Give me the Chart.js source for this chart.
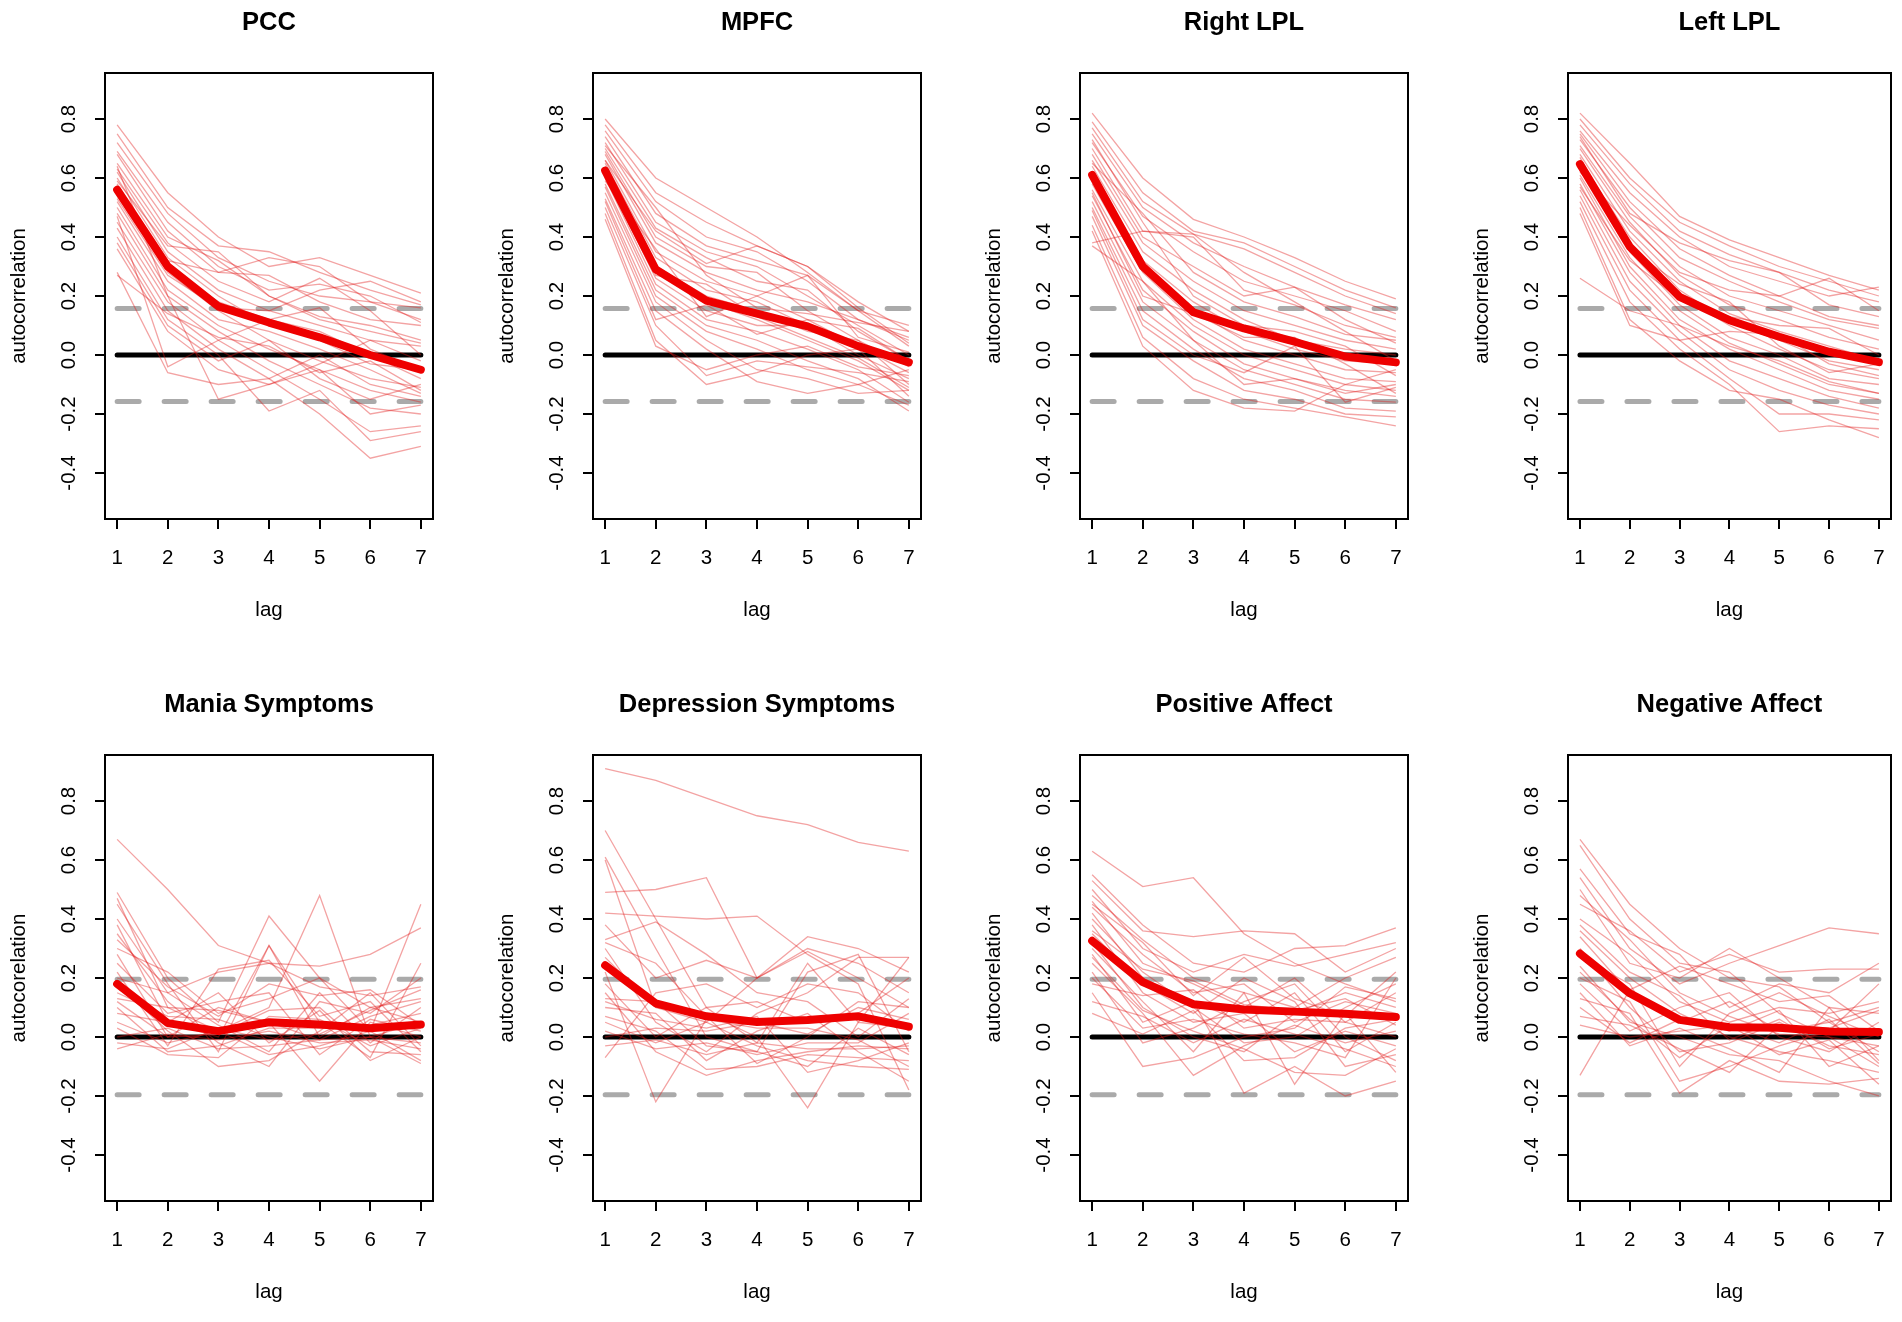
<!DOCTYPE html>
<html><head><meta charset="utf-8">
<script src="https://cdn.jsdelivr.net/npm/chart.js@4.4.1/dist/chart.umd.min.js"></script>
<style>
html,body{margin:0;padding:0;background:#fff;overflow:hidden;width:1902px;height:1322px;position:relative;}
canvas{position:absolute;}
</style></head><body>
<script>
// ---------- data ----------
const lags = [1, 2, 3, 4, 5, 6, 7];
const xTicks = [1, 2, 3, 4, 5, 6, 7];
const yTicks = [-0.4, -0.2, 0.0, 0.2, 0.4, 0.6, 0.8];
const panelTitles = ['PCC', 'MPFC', 'Right LPL', 'Left LPL', 'Mania Symptoms', 'Depression Symptoms', 'Positive Affect', 'Negative Affect'];
const yAxisTitles = ['autocorrelation', 'autocorrelation', 'autocorrelation', 'autocorrelation', 'autocorelation', 'autocorelation', 'autocorelation', 'autocorelation'];
const xAxisTitle = 'lag';
const ciBounds = [0.158, 0.158, 0.158, 0.158, 0.196, 0.196, 0.196, 0.196];

const pccMean = [0.56, 0.30, 0.165, 0.11, 0.06, 0.00, -0.05];
const pccLines = [
  [0.78, 0.55, 0.40, 0.30, 0.33, 0.27, 0.21],
  [0.75, 0.50, 0.37, 0.35, 0.28, 0.22, 0.17],
  [0.72, 0.48, 0.33, 0.25, 0.20, 0.18, 0.16],
  [0.69, 0.45, 0.30, 0.22, 0.24, 0.20, 0.11],
  [0.68, 0.42, 0.28, 0.27, 0.18, 0.12, 0.10],
  [0.65, 0.40, 0.32, 0.20, 0.12, 0.08, 0.04],
  [0.63, 0.38, 0.25, 0.18, 0.26, 0.15, 0.00],
  [0.62, 0.35, 0.22, 0.15, 0.10, 0.05, -0.02],
  [0.60, 0.33, 0.20, 0.10, 0.05, -0.03, -0.05],
  [0.58, 0.30, 0.18, 0.12, 0.08, 0.00, -0.08],
  [0.55, 0.28, 0.15, 0.05, -0.02, -0.08, -0.11],
  [0.52, 0.25, 0.12, 0.08, 0.02, -0.05, -0.13],
  [0.50, 0.22, 0.10, 0.02, -0.05, -0.12, -0.16],
  [0.48, 0.20, 0.08, -0.02, -0.10, -0.18, -0.20],
  [0.45, 0.18, 0.05, -0.05, -0.15, -0.26, -0.24],
  [0.43, 0.15, 0.02, -0.08, -0.20, -0.35, -0.31],
  [0.40, 0.12, 0.00, -0.19, -0.12, -0.29, -0.26],
  [0.38, 0.10, -0.02, 0.05, -0.08, -0.15, -0.10],
  [0.36, 0.08, -0.05, -0.10, -0.03, 0.05, 0.03],
  [0.28, -0.06, -0.10, -0.08, 0.00, -0.10, -0.14],
  [0.27, 0.14, 0.06, 0.03, -0.06, -0.02, -0.12],
  [0.57, 0.32, 0.28, 0.33, 0.30, 0.18, 0.12],
  [0.64, 0.20, -0.15, -0.10, -0.05, -0.20, -0.17],
  [0.53, 0.27, 0.16, 0.15, 0.22, 0.25, 0.18],
  [0.47, -0.04, 0.05, 0.12, 0.16, 0.02, -0.05],
  [0.59, 0.37, 0.35, 0.20, 0.13, 0.10, 0.05]
];

const mpfcMean = [0.625, 0.29, 0.184, 0.14, 0.097, 0.03, -0.025];
const mpfcLines = [
  [0.80, 0.60, 0.50, 0.40, 0.28, 0.15, 0.10],
  [0.78, 0.55, 0.45, 0.37, 0.30, 0.18, 0.08],
  [0.76, 0.52, 0.40, 0.35, 0.25, 0.12, 0.06],
  [0.74, 0.48, 0.37, 0.32, 0.27, 0.15, 0.03],
  [0.72, 0.45, 0.35, 0.30, 0.20, 0.10, 0.00],
  [0.70, 0.43, 0.33, 0.25, 0.22, 0.08, -0.02],
  [0.69, 0.40, 0.30, 0.28, 0.15, 0.05, -0.04],
  [0.68, 0.38, 0.28, 0.22, 0.18, 0.12, 0.05],
  [0.66, 0.35, 0.25, 0.20, 0.12, 0.03, -0.06],
  [0.65, 0.33, 0.22, 0.18, 0.10, 0.00, -0.08],
  [0.64, 0.30, 0.20, 0.15, 0.08, 0.05, -0.10],
  [0.62, 0.28, 0.18, 0.12, 0.05, -0.02, -0.12],
  [0.61, 0.26, 0.15, 0.10, 0.10, 0.02, -0.14],
  [0.60, 0.24, 0.12, 0.08, 0.02, -0.05, -0.16],
  [0.58, 0.22, 0.10, 0.05, -0.02, -0.08, -0.19],
  [0.57, 0.20, 0.08, 0.02, -0.05, -0.10, -0.17],
  [0.55, 0.18, 0.05, -0.05, -0.08, -0.13, -0.12],
  [0.53, 0.15, 0.02, -0.09, -0.13, -0.10, -0.05],
  [0.50, 0.10, -0.07, -0.02, -0.04, -0.06, -0.09],
  [0.48, 0.05, -0.10, -0.06, 0.00, 0.02, -0.03],
  [0.46, 0.03, -0.05, 0.00, 0.03, -0.04, -0.07],
  [0.66, 0.42, 0.31, 0.37, 0.30, 0.16, 0.04],
  [0.59, 0.36, 0.13, 0.20, 0.27, 0.06, 0.01],
  [0.71, 0.50, 0.27, 0.16, 0.14, 0.11, 0.08],
  [0.63, 0.27, 0.24, 0.13, 0.06, -0.01, -0.11],
  [0.52, 0.12, 0.17, 0.07, 0.12, 0.09, -0.02]
];

const rlplMean = [0.61, 0.30, 0.145, 0.09, 0.045, -0.005, -0.025];
const rlplLines = [
  [0.82, 0.60, 0.46, 0.40, 0.33, 0.25, 0.19],
  [0.79, 0.55, 0.42, 0.38, 0.30, 0.22, 0.16],
  [0.77, 0.52, 0.41, 0.36, 0.28, 0.20, 0.14],
  [0.75, 0.50, 0.38, 0.30, 0.23, 0.17, 0.12],
  [0.72, 0.47, 0.35, 0.25, 0.20, 0.15, 0.08],
  [0.70, 0.42, 0.40, 0.22, 0.17, 0.10, 0.06],
  [0.68, 0.40, 0.30, 0.20, 0.23, 0.12, 0.04],
  [0.66, 0.38, 0.25, 0.15, 0.10, 0.05, 0.02],
  [0.64, 0.35, 0.22, 0.12, 0.05, 0.02, 0.00],
  [0.62, 0.32, 0.18, 0.08, 0.02, -0.02, -0.03],
  [0.60, 0.30, 0.15, 0.05, 0.00, -0.05, -0.06],
  [0.58, 0.28, 0.12, 0.02, -0.03, -0.08, -0.09],
  [0.56, 0.25, 0.10, 0.00, -0.05, -0.10, -0.12],
  [0.54, 0.22, 0.08, -0.03, -0.08, -0.12, -0.14],
  [0.52, 0.18, 0.05, -0.05, -0.10, -0.15, -0.16],
  [0.50, 0.15, 0.02, -0.08, -0.12, -0.18, -0.19],
  [0.47, 0.10, -0.02, -0.12, -0.15, -0.20, -0.21],
  [0.44, 0.06, -0.08, -0.15, -0.18, -0.21, -0.24],
  [0.42, 0.03, -0.12, -0.18, -0.19, -0.10, -0.05],
  [0.38, 0.42, 0.41, 0.28, 0.18, 0.08, -0.02],
  [0.37, 0.25, 0.05, -0.10, -0.08, -0.13, -0.10],
  [0.65, 0.48, 0.28, 0.18, 0.13, 0.07, 0.05],
  [0.55, 0.20, 0.14, 0.06, 0.06, -0.03, -0.13],
  [0.73, 0.45, 0.20, 0.10, 0.08, 0.03, -0.07],
  [0.49, 0.12, 0.00, -0.06, 0.03, -0.16, -0.11]
];

const llplMean = [0.647, 0.367, 0.197, 0.118, 0.062, 0.011, -0.024];
const llplLines = [
  [0.82, 0.65, 0.47, 0.39, 0.33, 0.27, 0.22],
  [0.80, 0.60, 0.45, 0.37, 0.30, 0.25, 0.20],
  [0.78, 0.58, 0.42, 0.34, 0.28, 0.22, 0.18],
  [0.76, 0.55, 0.40, 0.30, 0.25, 0.20, 0.23],
  [0.75, 0.52, 0.36, 0.27, 0.20, 0.26, 0.15],
  [0.73, 0.50, 0.33, 0.25, 0.18, 0.12, 0.09],
  [0.71, 0.47, 0.30, 0.20, 0.15, 0.10, 0.05],
  [0.70, 0.45, 0.27, 0.17, 0.12, 0.06, 0.02],
  [0.68, 0.42, 0.25, 0.14, 0.08, 0.03, -0.02],
  [0.66, 0.40, 0.22, 0.11, 0.05, -0.02, -0.05],
  [0.65, 0.38, 0.20, 0.10, 0.02, -0.05, -0.08],
  [0.63, 0.35, 0.17, 0.06, 0.00, -0.08, -0.10],
  [0.61, 0.33, 0.15, 0.04, -0.03, -0.10, -0.13],
  [0.60, 0.30, 0.12, 0.02, -0.05, -0.12, -0.15],
  [0.58, 0.28, 0.10, -0.02, -0.08, -0.14, -0.18],
  [0.56, 0.25, 0.08, -0.05, -0.12, -0.17, -0.20],
  [0.54, 0.22, 0.05, -0.08, -0.20, -0.20, -0.22],
  [0.52, 0.18, 0.02, -0.10, -0.26, -0.24, -0.25],
  [0.50, 0.12, -0.02, -0.12, -0.15, -0.22, -0.28],
  [0.26, 0.15, 0.10, 0.03, -0.02, -0.09, -0.13],
  [0.48, 0.10, 0.05, 0.08, 0.07, -0.03, -0.07],
  [0.62, 0.44, 0.28, 0.22, 0.20, 0.13, 0.10],
  [0.74, 0.48, 0.38, 0.32, 0.28, 0.17, 0.13],
  [0.57, 0.32, 0.19, 0.13, 0.10, 0.09, 0.00],
  [0.67, 0.36, 0.24, 0.18, 0.03, -0.06, -0.03]
];

const maniaMean = [0.18, 0.047, 0.02, 0.05, 0.042, 0.03, 0.042];
const maniaLines = [
  [0.67, 0.50, 0.31, 0.25, 0.24, 0.28, 0.37],
  [0.49, 0.20, 0.05, 0.41, 0.20, 0.02, 0.45],
  [0.47, 0.10, 0.02, 0.10, 0.48, 0.00, -0.09],
  [0.45, 0.18, -0.05, 0.31, 0.05, -0.07, 0.25],
  [0.40, 0.15, 0.22, 0.25, 0.17, 0.14, 0.17],
  [0.38, 0.05, 0.00, 0.31, 0.00, 0.10, 0.05],
  [0.35, 0.12, -0.02, -0.10, 0.12, 0.08, 0.20],
  [0.30, 0.22, 0.08, 0.13, 0.20, 0.10, 0.13],
  [0.28, 0.00, 0.10, 0.05, -0.15, 0.05, 0.00],
  [0.25, 0.08, 0.12, 0.15, -0.06, 0.06, 0.02],
  [0.22, -0.03, 0.23, 0.26, 0.07, 0.12, -0.05],
  [0.20, 0.15, 0.04, -0.05, 0.15, -0.02, 0.10],
  [0.18, 0.02, -0.10, -0.08, 0.02, 0.15, -0.03],
  [0.15, 0.07, 0.06, 0.00, -0.04, 0.00, 0.05],
  [0.12, 0.00, 0.01, 0.09, 0.10, -0.05, -0.06],
  [0.10, -0.05, -0.03, 0.03, 0.03, 0.04, 0.08],
  [0.08, 0.05, 0.15, -0.02, 0.09, -0.08, 0.00],
  [0.05, -0.02, 0.02, -0.06, -0.03, 0.02, -0.08],
  [0.03, -0.06, -0.07, 0.07, 0.06, -0.03, 0.03],
  [0.00, 0.03, -0.04, -0.03, -0.01, 0.00, -0.02],
  [-0.02, -0.04, 0.03, -0.01, 0.01, 0.09, 0.16],
  [-0.04, 0.01, -0.01, 0.02, -0.02, -0.01, -0.04],
  [0.33, 0.17, 0.07, 0.18, 0.14, 0.16, 0.04],
  [0.13, 0.10, 0.09, 0.05, -0.01, 0.07, 0.12]
];

const depressionMean = [0.243, 0.114, 0.07, 0.051, 0.058, 0.07, 0.035];
const depressionLines = [
  [0.91, 0.87, 0.81, 0.75, 0.72, 0.66, 0.63],
  [0.70, 0.40, 0.10, -0.02, 0.25, 0.05, 0.27],
  [0.61, 0.30, 0.00, -0.05, 0.22, 0.28, -0.05],
  [0.60, 0.10, 0.05, 0.20, 0.29, 0.20, 0.10],
  [0.49, 0.50, 0.54, 0.20, 0.30, 0.25, 0.15],
  [0.42, 0.41, 0.40, 0.41, 0.28, 0.18, -0.18],
  [0.38, 0.20, 0.26, 0.20, 0.34, 0.30, 0.22],
  [0.33, 0.39, 0.28, 0.15, 0.12, 0.00, 0.13],
  [0.30, 0.05, -0.05, 0.08, 0.15, 0.27, 0.27],
  [0.27, 0.10, 0.08, 0.00, -0.24, 0.05, 0.03],
  [0.22, -0.22, 0.06, 0.03, 0.03, -0.01, -0.10],
  [0.18, 0.00, 0.10, 0.12, 0.05, 0.08, 0.20],
  [0.15, -0.05, -0.13, -0.08, -0.05, -0.03, -0.04],
  [0.13, 0.12, -0.03, -0.05, -0.10, 0.03, -0.06],
  [0.10, 0.08, -0.08, 0.02, 0.08, -0.05, -0.15],
  [0.07, 0.02, -0.11, -0.10, -0.06, -0.07, -0.08],
  [0.05, -0.02, 0.05, -0.03, -0.08, -0.10, -0.11],
  [0.02, -0.04, -0.02, -0.06, -0.02, -0.02, 0.08],
  [0.00, 0.03, 0.02, 0.05, 0.01, 0.10, 0.06],
  [-0.03, -0.01, -0.06, -0.02, -0.04, -0.04, -0.03],
  [-0.07, 0.15, 0.18, 0.10, 0.18, 0.15, 0.02],
  [0.32, 0.25, 0.07, -0.09, 0.00, 0.12, 0.10],
  [0.12, 0.06, 0.03, 0.07, -0.12, -0.08, -0.02]
];

const positiveMean = [0.326, 0.186, 0.111, 0.093, 0.086, 0.079, 0.068];
const positiveLines = [
  [0.63, 0.51, 0.54, 0.35, 0.25, 0.18, 0.12],
  [0.55, 0.38, 0.25, 0.22, 0.30, 0.31, 0.37],
  [0.53, 0.36, 0.34, 0.36, 0.35, 0.22, 0.30],
  [0.50, 0.30, 0.22, 0.28, 0.24, 0.28, 0.32],
  [0.48, 0.33, 0.20, 0.15, 0.10, 0.20, 0.27],
  [0.46, 0.25, 0.18, 0.10, 0.20, 0.05, 0.15],
  [0.44, 0.28, 0.15, 0.18, 0.05, 0.12, 0.08],
  [0.42, 0.20, 0.12, 0.05, 0.15, -0.05, 0.05],
  [0.40, 0.22, 0.10, -0.02, 0.00, 0.10, 0.18],
  [0.38, 0.15, 0.05, 0.08, -0.05, 0.02, -0.03],
  [0.35, 0.18, 0.08, 0.20, 0.12, -0.10, -0.06],
  [0.32, 0.10, 0.00, -0.05, 0.08, 0.15, 0.10],
  [0.30, 0.12, -0.05, 0.15, -0.16, 0.08, -0.12],
  [0.28, 0.05, 0.12, -0.19, -0.10, -0.20, -0.15],
  [0.25, 0.08, -0.13, -0.03, 0.04, -0.02, 0.02],
  [0.22, -0.02, 0.03, 0.12, 0.18, 0.00, -0.08],
  [0.20, 0.03, 0.06, 0.01, -0.02, -0.07, 0.20],
  [0.18, 0.14, 0.16, 0.03, 0.06, 0.05, 0.00],
  [0.15, -0.10, -0.07, 0.00, 0.03, 0.17, 0.13],
  [0.12, 0.07, -0.02, 0.06, 0.01, -0.04, -0.10],
  [0.08, 0.01, 0.09, -0.08, -0.07, 0.03, 0.06],
  [0.45, 0.32, 0.14, 0.27, 0.13, 0.07, 0.22],
  [0.36, 0.23, 0.19, 0.11, 0.09, 0.13, 0.04],
  [0.27, 0.09, 0.02, -0.04, -0.12, -0.13, -0.04]
];

const negativeMean = [0.283, 0.148, 0.058, 0.033, 0.031, 0.019, 0.017];
const negativeLines = [
  [0.67, 0.45, 0.30, 0.20, 0.17, 0.05, -0.05],
  [0.65, 0.40, 0.25, 0.22, 0.08, 0.00, -0.10],
  [0.57, 0.35, 0.28, 0.10, 0.18, 0.15, 0.25],
  [0.54, 0.30, 0.18, 0.25, 0.31, 0.37, 0.35],
  [0.50, 0.25, 0.20, 0.30, 0.20, 0.10, 0.08],
  [0.45, 0.36, 0.22, 0.28, 0.22, 0.23, 0.23],
  [0.40, 0.28, 0.12, 0.05, 0.10, 0.08, 0.12],
  [0.36, 0.20, 0.08, 0.00, -0.05, -0.08, -0.12],
  [0.34, 0.15, 0.05, 0.12, 0.02, 0.05, 0.10],
  [0.30, 0.10, -0.05, -0.02, 0.05, -0.03, -0.06],
  [0.27, 0.18, -0.10, 0.08, 0.15, 0.07, 0.00],
  [0.24, 0.05, 0.00, -0.06, -0.08, -0.15, -0.20],
  [0.20, 0.12, -0.15, -0.10, -0.03, 0.02, 0.18],
  [0.18, 0.02, 0.10, 0.15, 0.00, -0.05, 0.05],
  [0.15, -0.03, 0.03, -0.04, -0.12, 0.10, -0.08],
  [0.13, 0.08, -0.19, -0.08, -0.15, -0.16, -0.14],
  [0.10, -0.02, 0.06, 0.02, 0.09, -0.10, -0.03],
  [0.07, 0.04, -0.04, -0.12, 0.04, 0.03, 0.09],
  [0.04, 0.00, 0.02, 0.04, -0.06, -0.01, -0.16],
  [-0.13, 0.16, 0.24, 0.18, 0.12, 0.14, 0.02],
  [0.48, 0.33, 0.15, 0.07, 0.01, 0.00, -0.03],
  [0.38, 0.22, 0.14, -0.01, 0.06, -0.04, 0.01],
  [0.22, 0.06, -0.07, 0.04, -0.02, 0.06, -0.09]
];

const subjectSets = [pccLines, mpfcLines, rlplLines, llplLines, maniaLines, depressionLines, positiveLines, negativeLines];
const meanSets = [pccMean, mpfcMean, rlplMean, llplMean, maniaMean, depressionMean, positiveMean, negativeMean];

// ---------- layout ----------
const canvasLefts = [0, 488, 975, 1463];
const canvasWidths = [475, 475, 475, 439];
const canvasTops = [0, 682];
const CANVAS_H = 640;
const AREA_W = 328;
const YAXIS_W = 105;
const XAXIS_H = 121;

Chart.defaults.font.family = "'Liberation Sans', Arial, Helvetica, sans-serif";
Chart.defaults.color = '#000';

const boxPlugin = {
  id: 'rbox',
  afterDatasetsDraw(chart) {
    const a = chart.chartArea, ctx = chart.ctx;
    ctx.save();
    ctx.strokeStyle = '#000';
    ctx.lineWidth = 2;
    ctx.strokeRect(Math.round(a.left), Math.round(a.top), Math.round(a.right - a.left), Math.round(a.bottom - a.top));
    ctx.restore();
  }
};

function pts(vals) { return vals.map((v, i) => ({x: lags[i], y: v})); }
function hline(v) { return [{x: lags[0], y: v}, {x: lags[lags.length - 1], y: v}]; }

for (let p = 0; p < 8; p++) {
  const col = p % 4, row = Math.floor(p / 4);
  const cv = document.createElement('canvas');
  cv.width = canvasWidths[col];
  cv.height = CANVAS_H;
  cv.style.left = canvasLefts[col] + 'px';
  cv.style.top = canvasTops[row] + 'px';
  cv.style.width = canvasWidths[col] + 'px';
  cv.style.height = CANVAS_H + 'px';
  document.body.appendChild(cv);

  const datasets = [];
  datasets.push({data: pts(meanSets[p]), borderColor: '#ee0000', borderWidth: 8, order: 0,
    borderCapStyle: 'round', borderJoinStyle: 'round'});
  subjectSets[p].forEach(s => datasets.push({data: pts(s), borderColor: 'rgba(225,25,25,0.4)', borderWidth: 1.3, order: 1}));
  datasets.push({data: hline(0), borderColor: '#000', borderWidth: 5, order: 2, borderCapStyle: 'round'});
  datasets.push({data: hline(ciBounds[p]), borderColor: '#aaaaaa', borderWidth: 5, order: 3, borderCapStyle: 'round', borderDash: [22, 25]});
  datasets.push({data: hline(-ciBounds[p]), borderColor: '#aaaaaa', borderWidth: 5, order: 3, borderCapStyle: 'round', borderDash: [22, 25]});

  new Chart(cv, {
    type: 'line',
    data: {datasets},
    plugins: [boxPlugin],
    options: {
      responsive: false,
      animation: false,
      events: [],
      elements: {point: {radius: 0}, line: {tension: 0, fill: false}},
      layout: {padding: {left: 0, top: 0, bottom: 0, right: canvasWidths[col] - YAXIS_W - AREA_W}},
      plugins: {
        legend: {display: false},
        tooltip: {enabled: false},
        title: {display: true, text: panelTitles[p], fullSize: false, color: '#000',
          font: {size: 25.5, weight: 'bold'}, padding: {top: 7.8, bottom: 34.6}}
      },
      scales: {
        x: {
          type: 'linear', position: 'bottom', min: 0.76, max: 7.24,
          afterBuildTicks: s => { s.ticks = xTicks.map(v => ({value: v})); },
          afterFit: s => { s.height = XAXIS_H; },
          grid: {display: true, drawOnChartArea: false, drawTicks: true, tickLength: 10, color: '#000', lineWidth: 2},
          border: {display: false},
          ticks: {autoSkip: false, padding: 17, font: {size: 20.5}, color: '#000', maxRotation: 0, callback: v => String(v)},
          title: {display: true, text: xAxisTitle, font: {size: 20.5}, color: '#000', padding: {top: 0, bottom: 17}}
        },
        y: {
          type: 'linear', position: 'left', min: -0.556, max: 0.956,
          afterBuildTicks: s => { s.ticks = yTicks.map(v => ({value: v})); },
          afterFit: s => { s.width = YAXIS_W; },
          grid: {display: true, drawOnChartArea: false, drawTicks: true, tickLength: 10, color: '#000', lineWidth: 2},
          border: {display: false},
          ticks: {autoSkip: false, padding: 8, font: {size: 20.5}, color: '#000', minRotation: 90, maxRotation: 90,
            crossAlign: 'center', callback: v => v.toFixed(1)},
          title: {display: true, text: yAxisTitles[p], font: {size: 20.5}, color: '#000', padding: {top: 7, bottom: 0}}
        }
      }
    }
  });
}
</script>
</body></html>
